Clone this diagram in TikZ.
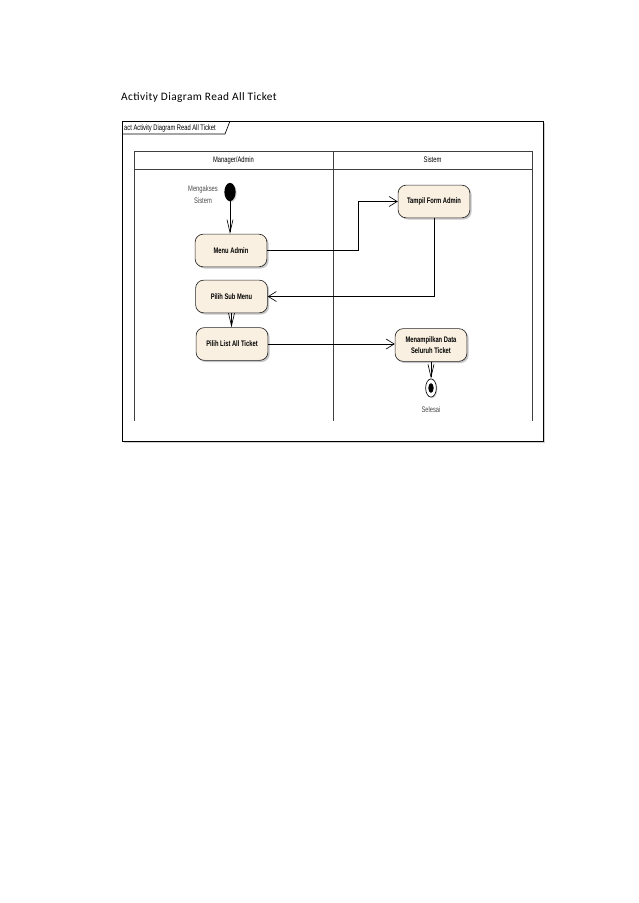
\documentclass[tikz,border=0pt]{standalone}
\usepackage{fontspec}
\setmainfont{Liberation Sans}
\newfontfamily\diagfont[FakeStretch=0.72]{Liberation Sans}
\newfontfamily\titlefont[LetterSpace=3.5]{Carlito}
\usetikzlibrary{arrows.meta,shadows,shapes.geometric}
\definecolor{actfill}{RGB}{249,240,225}
\definecolor{lblgray}{RGB}{75,75,75}
\begin{document}
\begin{tikzpicture}[x=0.9331pt,y=-0.9331pt,
  act/.style={draw=black!85, line width=0.6pt, fill=actfill, rounded corners=7.5pt,
    minimum width=67pt, minimum height=30.5pt, inner sep=1pt, align=center,
    font=\diagfont\bfseries\fontsize{7.5}{10.5}\selectfont,
    drop shadow={shadow xshift=1.6pt, shadow yshift=-1.6pt, fill=black!40, opacity=0.55}},
  lbl/.style={font=\diagfont\fontsize{7.5}{11.5}\selectfont, text=lblgray, align=center, inner sep=0pt},
  hdr/.style={font=\diagfont\fontsize{7.5}{9}\selectfont, inner sep=0pt},
  flow/.style={draw=black, line width=0.6pt},
  harr/.style={flow, -{Straight Barb[length=7.5pt,width=9.3pt,line width=0.6pt]}},
  varr/.style={flow, -{Straight Barb[length=12pt,width=5.6pt,line width=0.6pt]}},
  lane/.style={draw=black!75, line width=0.6pt}
]
\useasboundingbox (0,0) rectangle (638,903);
\fill[white] (0,0) rectangle (638,903);

% title
\node[anchor=west, inner sep=0pt, font=\titlefont\fontsize{10.6}{12}\selectfont] (title) at (121,98) {Activity Diagram Read All Ticket};

% outer frame
\fill[black!18] (124,123) rectangle (544.5,442.5);
\draw[fill=white, line width=0.6pt] (122,121) rectangle (543,441);
\draw[line width=0.6pt] (122,134) -- (225,134) -- (230,121);
\node[anchor=west, hdr] (frametab) at (124,128) {act Activity Diagram Read All Ticket};

% swimlanes
\draw[lane] (134,151) rectangle (532,169);
\draw[lane] (134,169) -- (134,421);
\draw[lane] (333,151) -- (333,421);
\draw[lane] (532,169) -- (532,421);
\node[hdr] (lane1) at (233.5,160) {Manager/Admin};
\node[hdr] (lane2) at (432.5,160) {Sistem};

% nodes
\node[ellipse, fill=black, minimum width=10.5pt, minimum height=17pt, inner sep=0pt,
  drop shadow={shadow xshift=1pt, shadow yshift=-1pt, fill=black!30, opacity=0.5}] (init) at (230,192) {};
\node[lbl] (initlbl) at (203,194.5) {Mengakses\\Sistem};

\node[act] (menu) at (231,250.5) {Menu Admin};
\node[act] (sub) at (231.5,296.5) {Pilih Sub Menu};
\node[act] (list) at (232,344) {Pilih List All Ticket};
\node[act] (tampil) at (434,201.5) {Tampil Form Admin};
\node[act] (data) at (431,345) {Menampilkan Data\\Seluruh Ticket};

\node[ellipse, draw=black, line width=0.6pt, fill=white, minimum width=10pt, minimum height=17pt, inner sep=0pt,
  drop shadow={shadow xshift=1pt, shadow yshift=-1pt, fill=black!30, opacity=0.5}] (final) at (431,388) {};
\node[ellipse, fill=black, minimum width=5pt, minimum height=9pt, inner sep=0pt] (finalin) at (final.center) {};
\node[lbl] (finallbl) at (431,410) {Selesai};

% connectors
\draw[varr] (init.south) -- (init.south |- menu.north);
\draw[harr] (menu.east) -- ++(91,0) |- (tampil.west);
\draw[harr] (tampil.south) |- (sub.east);
\draw[varr] (sub.south) -- (sub.south |- list.north);
\draw[harr] (list.east) -- (list.east -| data.west);
\draw[varr] (data.south) -- (final.north);
\end{tikzpicture}
\end{document}
